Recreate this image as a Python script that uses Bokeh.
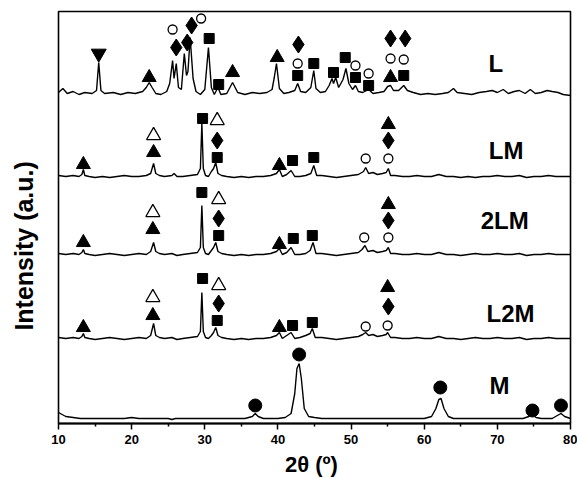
from math import pi
from bokeh.plotting import figure
from bokeh.layouts import row, column
from bokeh.models import FixedTicker, Range1d
from bokeh.core.properties import value
from bokeh.embed import file_html
from bokeh.resources import INLINE

# ---- XRD traces (2theta in degrees, intensity in arbitrary units incl. stacking offset)
l_tt = [10.0, 10.6, 11.2, 12.0, 12.8, 13.6, 14.6, 15.2, 15.5, 15.8, 16.3, 17.5, 18.5, 19.5, 20.5,
        21.5, 22.0, 22.4, 22.8, 23.3, 24.0, 24.8, 25.2, 25.6, 25.8, 26.1, 26.4, 26.8, 27.2, 27.5,
        27.7, 28.0, 28.4, 28.8, 29.4, 30.0, 30.5, 30.9, 31.3, 31.8, 32.2, 33.0, 33.8, 34.5, 35.5,
        36.5, 37.5, 38.5, 39.2, 39.5, 39.8, 40.2, 40.8, 41.5, 42.3, 42.7, 43.1, 43.8, 44.5, 44.9,
        45.2, 45.8, 46.5, 47.0, 47.4, 47.6, 47.9, 48.3, 48.9, 49.3, 49.7, 50.2, 50.6, 51.0, 51.6,
        52.4, 53.0, 53.8, 54.5, 55.0, 55.4, 55.8, 56.5, 57.2, 57.7, 58.5, 59.5, 60.5, 61.5, 62.5,
        63.3, 64.0, 64.5, 65.5, 66.5, 67.5, 68.5, 69.3, 70.0, 70.8, 71.5, 72.3, 73.0, 73.8, 74.5,
        75.2, 76.0, 76.8, 77.5, 78.3, 79.0, 80.0]
l_int = [331, 335, 330, 332, 329, 331, 330, 333, 361, 333, 330, 331, 329, 331, 330,
         332, 336, 341, 336, 330, 329, 332, 340, 363, 345, 360, 336, 334, 370, 348,
         352, 386, 345, 332, 329, 334, 376, 336, 329, 336, 329, 330, 341, 331, 329,
         331, 330, 331, 334, 346, 360, 335, 330, 331, 333, 340, 332, 331, 336, 353,
         335, 331, 332, 338, 345, 340, 346, 336, 344, 355, 340, 334, 338, 332, 331,
         334, 330, 331, 332, 337, 338, 333, 333, 338, 333, 331, 329, 330, 329, 330,
         331, 335, 331, 330, 329, 331, 332, 333, 331, 334, 330, 332, 333, 330, 334,
         330, 331, 333, 332, 331, 329, 328]

lm_tt = [10.0, 11.0, 12.0, 12.8, 13.2, 13.4, 13.6, 14.2, 15.0, 16.0, 17.0, 18.0, 19.0, 20.0, 21.0,
         22.0, 22.6, 23.0, 23.3, 23.8, 24.5, 25.5, 25.8, 26.2, 27.0, 28.0, 29.0, 29.4, 29.6, 29.8,
         30.1, 30.5, 30.9, 31.2, 31.5, 31.8, 32.3, 33.0, 34.0, 35.0, 36.0, 37.0, 38.0, 39.0, 39.8,
         40.2, 40.6, 41.2, 41.8, 42.3, 43.0, 43.8, 44.5, 44.9, 45.3, 46.0, 47.0, 48.0, 49.0, 50.0,
         51.0, 51.7, 52.0, 52.4, 53.0, 53.6, 54.3, 54.8, 55.1, 55.4, 56.0, 57.0, 58.0, 59.0, 60.0,
         61.0, 62.0, 63.0, 64.0, 65.0, 66.0, 67.0, 68.0, 69.0, 70.0, 71.0, 72.0, 73.0, 74.0, 75.0,
         76.0, 77.0, 78.0, 79.0, 80.0]
lm_int = [248, 247, 248, 247, 249, 254, 248, 247, 246, 247, 246, 247, 248, 247, 247,
          248, 250, 260, 250, 248, 247, 248, 250, 247, 247, 248, 249, 255, 300, 255,
          248, 247, 252, 255, 261, 250, 248, 247, 246, 247, 246, 247, 247, 248, 250,
          254, 247, 249, 253, 247, 247, 248, 250, 258, 248, 248, 247, 246, 247, 248,
          249, 252, 256, 250, 251, 249, 250, 251, 255, 248, 248, 247, 247, 248, 247,
          247, 249, 247, 247, 246, 247, 246, 247, 247, 248, 247, 247, 248, 246, 247,
          247, 248, 247, 247, 247]

lm2_tt = [10.0, 11.0, 12.0, 12.8, 13.2, 13.4, 13.6, 14.2, 15.0, 16.0, 17.0, 18.0, 19.0, 20.0, 21.0,
          22.0, 22.6, 23.0, 23.3, 23.8, 24.5, 25.5, 26.2, 27.0, 28.0, 29.0, 29.4, 29.6, 29.8,
          30.1, 30.5, 30.9, 31.2, 31.5, 31.8, 32.3, 33.0, 34.0, 35.0, 36.0, 37.0, 38.0, 39.0, 39.8,
          40.2, 40.6, 41.2, 41.8, 42.3, 43.0, 43.8, 44.4, 44.8, 45.2, 46.0, 47.0, 48.0, 49.0, 50.0,
          51.0, 51.5, 51.9, 52.3, 53.0, 53.6, 54.3, 54.8, 55.1, 55.4, 56.0, 57.0, 58.0, 59.0, 60.0,
          61.0, 62.0, 63.0, 64.0, 65.0, 66.0, 67.0, 68.0, 69.0, 70.0, 71.0, 72.0, 73.0, 74.0, 75.0,
          76.0, 77.0, 78.0, 79.0, 80.0]
lm2_int = [170, 169, 170, 169, 171, 174, 170, 169, 168, 169, 170, 169, 168, 169, 170,
           169, 172, 181, 172, 170, 169, 170, 168, 169, 170, 171, 176, 218, 176,
           170, 169, 173, 176, 181, 172, 170, 169, 168, 169, 168, 169, 169, 170, 172,
           175, 169, 171, 176, 169, 169, 170, 173, 181, 170, 170, 169, 168, 169, 170,
           171, 174, 178, 172, 173, 171, 172, 173, 176, 170, 170, 169, 169, 170, 169,
           169, 171, 169, 169, 168, 169, 170, 169, 169, 170, 169, 169, 170, 168, 169,
           169, 170, 169, 169, 169]

l2m_tt = [10.0, 11.0, 12.0, 12.8, 13.2, 13.4, 13.6, 14.2, 15.0, 16.0, 17.0, 18.0, 19.0, 20.0, 21.0,
          22.0, 22.6, 23.0, 23.3, 23.8, 24.5, 25.5, 26.2, 27.0, 28.0, 29.0, 29.4, 29.6, 29.8,
          30.1, 30.5, 30.9, 31.2, 31.5, 31.8, 32.3, 33.0, 34.0, 35.0, 36.0, 37.0, 38.0, 39.0, 39.8,
          40.2, 40.6, 41.2, 41.8, 42.3, 43.0, 43.8, 44.4, 44.7, 45.1, 46.0, 47.0, 48.0, 49.0, 50.0,
          51.0, 51.6, 52.0, 52.4, 53.0, 53.6, 54.3, 54.8, 55.0, 55.4, 56.0, 57.0, 58.0, 59.0, 60.0,
          61.0, 62.0, 63.0, 64.0, 65.0, 66.0, 67.0, 68.0, 69.0, 70.0, 71.0, 72.0, 73.0, 74.0, 75.0,
          76.0, 77.0, 78.0, 79.0, 80.0]
l2m_int = [86, 85, 86, 85, 87, 90, 86, 85, 84, 85, 86, 85, 84, 85, 86,
           85, 88, 100, 88, 86, 85, 86, 84, 85, 86, 87, 92, 131, 92,
           86, 85, 88, 91, 96, 88, 86, 85, 84, 85, 84, 85, 85, 86, 88,
           91, 85, 88, 91, 85, 86, 88, 90, 95, 86, 86, 85, 84, 85, 86,
           87, 89, 91, 88, 89, 87, 88, 89, 91, 86, 86, 85, 85, 86, 85,
           85, 87, 85, 85, 84, 85, 86, 85, 85, 86, 85, 85, 86, 84, 85,
           85, 86, 85, 85, 85]

m_tt = [10.0, 10.5, 11.0, 12.0, 13.0, 15.0, 17.0, 19.0, 20.0, 21.0, 23.0, 25.0, 25.5, 26.0, 28.0,
        30.0, 32.0, 34.0, 35.5, 36.5, 36.9, 37.3, 38.0, 40.0, 41.0, 41.8, 42.3, 42.6, 42.9, 43.2,
        43.6, 44.2, 45.0, 46.0, 48.0, 50.0, 52.0, 54.0, 56.0, 58.0, 60.0, 61.0, 61.6, 62.0, 62.3,
        62.7, 63.3, 64.0, 66.0, 68.0, 70.0, 72.0, 73.5, 74.3, 74.8, 75.3, 76.0, 77.5, 78.2, 78.7,
        79.2, 80.0]
m_int = [11, 9, 7, 6, 5, 5, 5, 5, 6, 5, 5, 5, 4, 5, 5,
         5, 5, 5, 5, 7, 10, 7, 5, 5, 6, 10, 30, 55, 60, 45,
         15, 7, 6, 5, 5, 5, 5, 5, 5, 5, 5, 7, 15, 24, 25,
         15, 7, 5, 5, 5, 5, 5, 5, 7, 9, 6, 5, 5, 8, 10,
         7, 5]

# ---- phase markers (2theta, height)
tri_x = [22.4, 33.8, 39.9, 55.4,
         13.4, 23.0, 40.2, 55.1,
         13.4, 22.9, 40.2, 55.1,
         13.4, 22.9, 40.2, 55.0]
tri_y = [346, 351, 366, 346,
         259, 271, 258, 299,
         181, 194, 179, 219,
         96, 108, 96, 136]
itri_x = [15.5]
itri_y = [370]
otri_x = [23.0, 31.7, 22.9, 31.9, 22.9, 31.9]
otri_y = [288, 303, 211, 224, 126, 138]
sq_x = [30.6, 31.9, 42.7, 44.9, 47.6, 49.2, 50.6, 52.4, 57.2,
        29.7, 31.7, 42.0, 44.9,
        29.6, 31.9, 42.1, 44.7,
        29.7, 31.7, 42.0, 44.7]
sq_y = [385, 339, 348, 360, 351, 366, 346, 338, 348,
        305, 266, 263, 266,
        231, 188, 185, 188,
        145, 103, 98, 101]
dia_x = [26.1, 27.6, 28.2, 42.8, 55.4, 57.4,
         31.7, 55.1, 31.9, 55.1, 31.9, 55.1]
dia_y = [376, 381, 398, 379, 385, 385,
         283, 283, 205, 203, 120, 117]
oc_x = [25.6, 29.5, 42.7, 50.6, 52.4, 55.4, 57.2,
        52.0, 55.1, 51.8, 55.1, 52.0, 55.0]
oc_y = [394, 405, 360, 358, 350, 365, 364,
        265, 265, 186, 186, 97, 98]
fc_x = [36.9, 42.9, 62.2, 74.8, 78.7]
fc_y = [18, 69, 36, 13, 18]

sample_names = ["L", "LM", "2LM", "L2M", "M"]
label_x = [69.8, 71.2, 71.0, 71.8, 70.3]
label_y = [360, 273, 203, 110, 38]

x_ticks = [10, 20, 30, 40, 50, 60, 70, 80]
x_minor = [15, 25, 35, 45, 55, 65, 75]
x_title = "2θ  (º)"
y_title = "Intensity (a.u.)"

TOP_H = 450   # height of the row holding the plot
BOT_H = 28    # strip holding the horizontal axis title

# ---- narrow strip that carries the vertical axis title
lab = figure(width=45, height=TOP_H, x_range=Range1d(0, 45), y_range=Range1d(0, TOP_H),
             output_backend="svg", toolbar_location=None,
             x_axis_location=None, y_axis_location=None, min_border=0)
lab.grid.visible = False
lab.outline_line_color = None
lab.text([23], [TOP_H - 256], text=[y_title], angle=pi / 2, text_font=value("Liberation Sans"),
         text_font_style="bold", text_font_size="25px", text_align="center",
         text_baseline="middle", text_color="black")

# ---- bottom strip that carries the horizontal axis title
xlab = figure(width=577, height=BOT_H, x_range=Range1d(0, 577), y_range=Range1d(0, BOT_H),
              output_backend="svg", toolbar_location=None,
              x_axis_location=None, y_axis_location=None, min_border=0)
xlab.grid.visible = False
xlab.outline_line_color = None
xlab.text([314], [BOT_H / 2], text=[x_title], text_font=value("Liberation Sans"),
          text_font_style="bold", text_font_size="22px", text_align="center",
          text_baseline="middle", text_color="black")

# ---- main plot
p = figure(width=532, height=TOP_H, x_range=Range1d(10, 80), y_range=Range1d(0, 412),
           output_backend="svg", toolbar_location=None, y_axis_location=None,
           min_border_left=13, min_border_right=7, min_border_top=11, min_border_bottom=27)
p.xgrid.visible = False
p.ygrid.visible = False
p.outline_line_color = "black"
p.outline_line_width = 1.6
p.background_fill_color = "white"

for xs, ys in [(l_tt, l_int), (lm_tt, lm_int), (lm2_tt, lm2_int), (l2m_tt, l2m_int), (m_tt, m_int)]:
    p.line(xs, ys, line_color="black", line_width=1.4)

p.scatter(tri_x, tri_y, marker="triangle", size=14, fill_color="black", line_color="black")
p.scatter(itri_x, itri_y, marker="inverted_triangle", size=15, fill_color="black", line_color="black")
p.scatter(otri_x, otri_y, marker="triangle", size=14, fill_color="white", line_color="black", line_width=1.3)
p.scatter(sq_x, sq_y, marker="square", size=10, fill_color="black", line_color="black")
p.scatter(dia_x, dia_y, marker="diamond", size=17, fill_color="black", line_color="black")
p.scatter(oc_x, oc_y, marker="circle", size=9, fill_color="white", line_color="black", line_width=1.3)
p.scatter(fc_x, fc_y, marker="circle", size=13, fill_color="black", line_color="black")

p.text(label_x, label_y, text=sample_names, text_font=value("Liberation Sans"),
       text_font_style="bold", text_font_size="24px", text_align="center",
       text_baseline="middle", text_color="black")

xa = p.xaxis[0]
xa.ticker = FixedTicker(ticks=x_ticks, minor_ticks=x_minor)
xa.major_tick_out = 6
xa.major_tick_in = 0
xa.minor_tick_out = 3
xa.minor_tick_in = 0
xa.axis_line_width = 2
xa.major_tick_line_width = 1.5
xa.minor_tick_line_width = 1.5
xa.major_label_standoff = 5
xa.major_label_text_font = "Liberation Sans"
xa.major_label_text_font_style = "bold"
xa.major_label_text_font_size = "13px"
xa.major_label_text_color = "black"

layout = column(row(lab, p), xlab)
open("out.html", "w").write(file_html(layout, INLINE))
